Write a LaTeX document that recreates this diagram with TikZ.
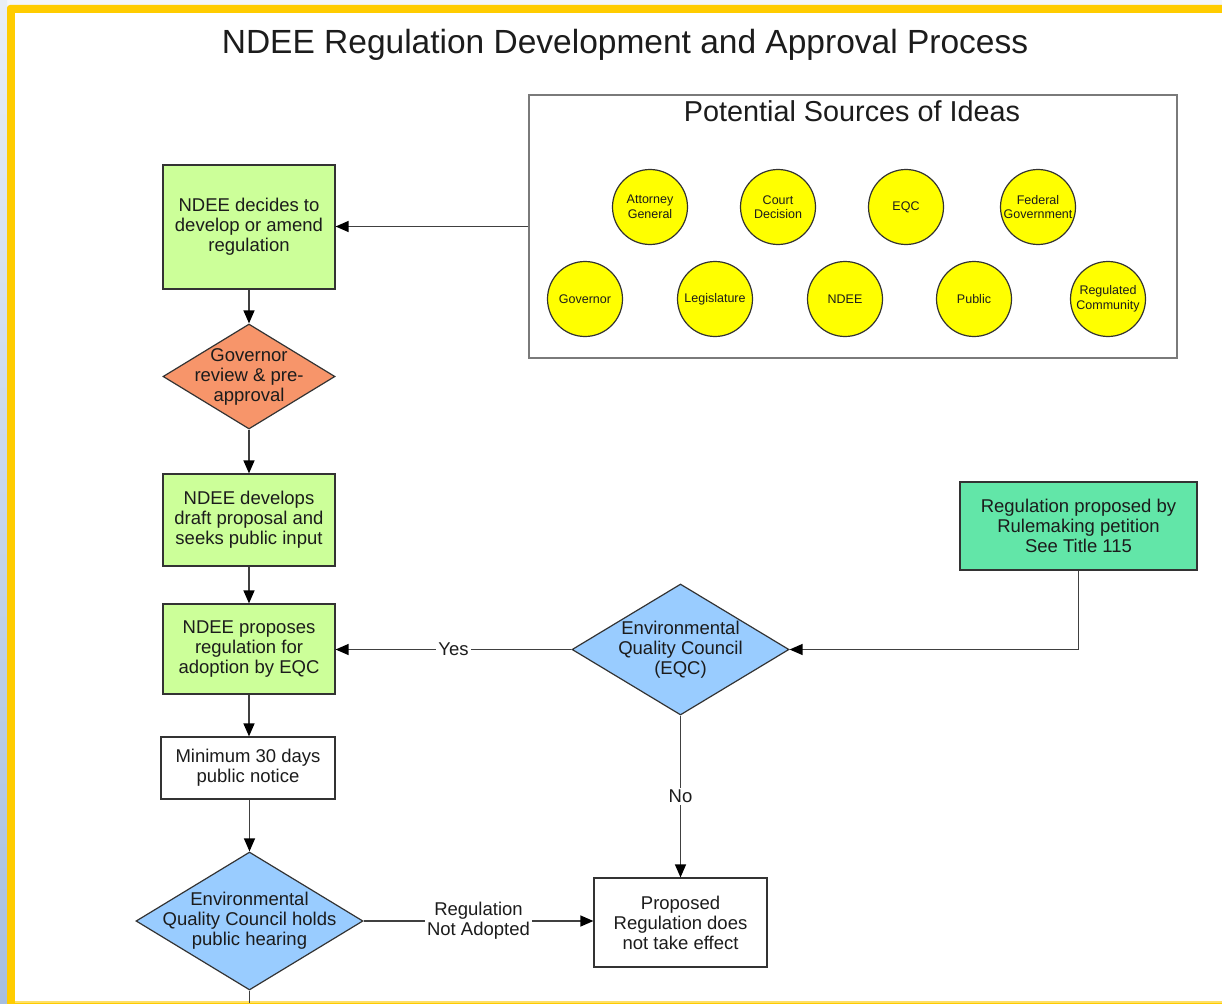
\documentclass[tikz,border=0pt]{standalone}
\usepackage{fontspec}
\setmainfont{Liberation Sans}
\usetikzlibrary{shapes.geometric,arrows.meta}
\definecolor{frameyellow}{HTML}{FFCC00}
\definecolor{boxgreen}{HTML}{CCFF99}
\definecolor{petgreen}{HTML}{62E6A8}
\definecolor{govorange}{HTML}{F7956A}
\definecolor{eqcblue}{HTML}{99CCFF}
\definecolor{srcyellow}{HTML}{FFFF00}
\definecolor{edgegray}{HTML}{333333}
\definecolor{linegray}{HTML}{404040}
\definecolor{txtgray}{HTML}{1C1C1C}
\definecolor{srcborder}{HTML}{7A7A7A}
\definecolor{striptop}{HTML}{E8EEF6}
\definecolor{stripbottom}{HTML}{A6BEE0}
\definecolor{outerbg}{HTML}{F4F6FA}
\newcommand{\boxfont}{\fontsize{18.5}{20}\selectfont}
\newcommand{\circfont}{\fontsize{12.5}{14.5}\selectfont}
\tikzset{
  flowbox/.style={rectangle, draw=edgegray, line width=1.2pt, align=center, inner sep=2pt, font=\boxfont, text=txtgray},
  flowdia/.style={diamond, draw=edgegray, line width=1.2pt, inner sep=0pt},
  diatext/.style={align=center, font=\boxfont, text=txtgray},
  idea/.style={circle, draw=edgegray, line width=1.2pt, fill=srcyellow, minimum size=75pt, inner sep=0pt, align=center, font=\circfont, text=txtgray},
  conn/.style={draw=linegray, line width=1.3pt, -{Triangle[length=13pt,width=11pt,color=black]}},
  plainline/.style={draw=linegray, line width=1.3pt},
  edgelbl/.style={fill=white, inner sep=2pt, align=center, font=\boxfont, text=txtgray}
}
\begin{document}
\begin{tikzpicture}[x=1pt,y=-1pt]
\useasboundingbox (0,0) rectangle (1222,1003);
\clip (0,0) rectangle (1222,1003);
% background and frame
\fill[outerbg] (0,0) rectangle (1222,1003);
\shade[top color=striptop, bottom color=stripbottom] (0,0) rectangle (7,1003);
\fill[frameyellow, rounded corners=3pt] (7,5) rectangle (1240,1010);
\fill[white] (15,13) rectangle (1222,1001);
\fill[frameyellow!60!white] (15,1001) rectangle (1222,1003);

% title
\node[font=\fontsize{33.5}{38}\selectfont, text=txtgray] (title) at (625,45) {NDEE Regulation Development and Approval Process};

% sources box
\node[rectangle, draw=srcborder, line width=2pt, minimum width=648pt, minimum height=263pt, inner sep=0pt] (src) at (853,226.5) {};
\node[font=\fontsize{28.8}{32}\selectfont, text=txtgray] (srctitle) at (852,111) {Potential Sources of Ideas};
\node[idea] (ag)  at (650,207) {Attorney\\General};
\node[idea] (cd)  at (778,207) {Court\\Decision};
\node[idea] (eqcs) at (906,207) {EQC};
\node[idea] (fg)  at (1038,207) {Federal\\Government};
\node[idea] (gov) at (585,299) {Governor};
\node[idea] (leg) at (715,299) {Legislature};
\node[idea] (ndee) at (845,299) {NDEE};
\node[idea] (pub) at (974,299) {Public};
\node[idea] (rc)  at (1108,299) {Regulated\\Community};

% main column
\node[flowbox, fill=boxgreen, minimum width=172pt, minimum height=124pt] (b1) at (249,227) {NDEE decides to\\develop or amend\\regulation};
\node[flowdia, fill=govorange, minimum width=172pt, minimum height=105pt,
      label={[diatext]center:Governor\\review \& pre-\\approval}] (d1) at (249,376.5) {};
\node[flowbox, fill=boxgreen, minimum width=172pt, minimum height=92pt] (b2) at (249,520) {NDEE develops\\draft proposal and\\seeks public input};
\node[flowbox, fill=boxgreen, minimum width=172pt, minimum height=90pt] (b3) at (249,649) {NDEE proposes\\regulation for\\adoption by EQC};
\node[flowbox, fill=white, minimum width=174pt, minimum height=62pt] (b4) at (248,768) {Minimum 30 days\\public notice};
\node[flowdia, fill=eqcblue, minimum width=227pt, minimum height=138pt,
      label={[diatext]center:Environmental\\Quality Council holds\\public hearing}] (d2) at (249.5,921) {};
\coordinate (bottomend) at (249.5,1003);

% right part
\node[flowdia, fill=eqcblue, minimum width=217pt, minimum height=131pt,
      label={[diatext]center:Environmental\\Quality Council\\(EQC)}] (d3) at (680.5,649.5) {};
\node[flowbox, fill=white, minimum width=173pt, minimum height=89pt] (b5) at (680.5,922.5) {Proposed\\Regulation does\\not take effect};
\node[flowbox, fill=petgreen, minimum width=237pt, minimum height=88pt] (b6) at (1078.5,526) {Regulation proposed by\\Rulemaking petition\\See Title 115};

% connectors
\draw[conn] (src.west) -- (src.west -| b1.east);
\draw[conn] (b1) -- (d1);
\draw[conn] (d1) -- (b2);
\draw[conn] (b2) -- (b3);
\draw[conn] (b3.south) -- (b3.south |- b4.north);
\draw[conn] (b4.south -| d2.north) -- (d2.north);
\draw[plainline] (d2.south) -- (bottomend);
\draw[conn] (d2.east) -- node[edgelbl] {Regulation\\Not Adopted} (d2.east -| b5.west);
\draw[conn] (d3.west) -- node[edgelbl] {Yes} (d3.west -| b3.east);
\draw[conn] (d3.south) -- node[edgelbl] {No} (d3.south |- b5.north);
\draw[conn] (b6.south) |- (d3.east);
\end{tikzpicture}
\end{document}
